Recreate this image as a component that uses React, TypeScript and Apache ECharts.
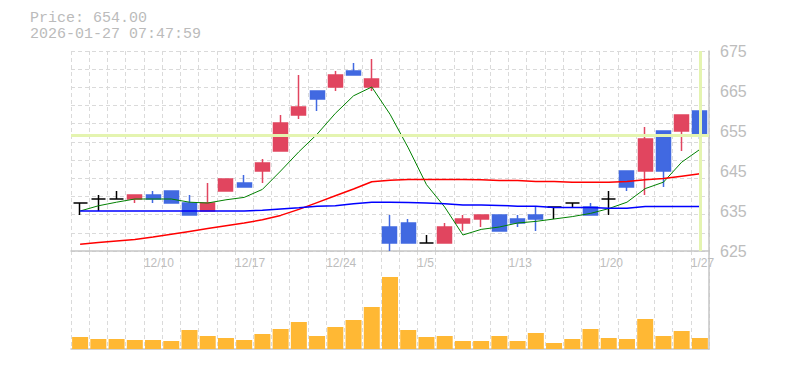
import React, { useEffect, useRef } from 'react';
import * as echarts from 'echarts';

const dates = [
  '12/4', '12/5', '12/8', '12/9', '12/10', '12/11', '12/12', '12/15', '12/16', '12/17',
  '12/18', '12/19', '12/22', '12/23', '12/24', '12/25', '12/26', '12/29', '12/30', '1/5',
  '1/6', '1/7', '1/8', '1/9', '1/13', '1/14', '1/15', '1/16', '1/19', '1/20',
  '1/21', '1/22', '1/23', '1/26', '1/27',
];

const openPrices = [637, 638, 638, 638, 639, 640, 637, 635, 640, 642, 645, 650, 659, 665, 666, 670, 666, 631, 632, 627, 627, 632, 633, 634, 633, 634, 636, 637, 636, 638, 645, 645, 655, 655, 660];
const closePrices = [637, 638, 638, 639, 638, 637, 634, 637, 643, 641, 647, 657, 661, 663, 669, 669, 668, 627, 627, 627, 631, 633, 634, 630, 632, 633, 636, 637, 634, 638, 641, 653, 645, 659, 654];
const lowPrices = [634, 635, 638, 637, 637, 637, 634, 635, 640, 641, 642, 650, 658, 660, 665, 669, 665, 625, 627, 627, 627, 630, 631, 630, 631, 630, 633, 636, 634, 634, 640, 639, 641, 650, 653];
const highPrices = [637, 639, 640, 639, 640, 640, 639, 642, 643, 644, 648, 659, 669, 665, 670, 672, 673, 634, 633, 629, 632, 634, 634, 634, 634, 636, 636, 637, 637, 640, 645, 656, 655, 659, 660];

const ma5 = [635.0, 636.3, 637.2, 638.0, 638.0, 638.0, 637.2, 637.0, 637.8, 638.4, 640.4, 645.0, 649.8, 654.2, 659.4, 663.8, 666.0, 659.2, 650.8, 641.6, 636.0, 629.0, 630.4, 631.0, 632.0, 632.4, 633.0, 633.6, 634.4, 635.6, 637.2, 640.6, 642.2, 647.2, 650.4];
const ma25 = [626.7, 627.1, 627.5, 627.9, 628.5, 629.2, 629.9, 630.6, 631.3, 632.0, 632.8, 633.9, 635.4, 637.1, 638.8, 640.5, 642.3, 642.7, 642.9, 642.9, 642.9, 642.9, 642.8, 642.6, 642.6, 642.4, 642.4, 642.2, 642.2, 642.2, 642.4, 642.8, 643.1, 643.7, 644.3];
const ma75 = [635.0, 635.0, 635.0, 635.0, 635.0, 635.0, 635.0, 635.0, 635.0, 635.0, 635.2, 635.5, 635.8, 636.2, 636.3, 636.8, 637.2, 637.2, 637.1, 637.0, 636.8, 636.5, 636.5, 636.4, 636.2, 636.2, 635.9, 635.9, 635.9, 635.7, 635.7, 636.1, 636.1, 636.1, 636.1];

const volumes = [12000, 10000, 10000, 9000, 9000, 8000, 19000, 13000, 11000, 9000, 15000, 20000, 27000, 13000, 22000, 29000, 42000, 72000, 19000, 12000, 13000, 8000, 8000, 13000, 8000, 16000, 6000, 10000, 20000, 11000, 10000, 30000, 13000, 18000, 11000];

const priceTicks = { min: 625, max: 675, step: 10 };
const lastPrice = 654;
const timestamp = '2026-01-27 07:47:59';

const gridColor = '#dadada';
const axisColor = '#c6c6c6';
const labelColor = '#bdbdbd';
const upColor = '#e1455f';
const downColor = '#4169e1';

export default function App() {
  const ref = useRef<HTMLDivElement>(null);

  useEffect(() => {
    if (!ref.current) return;
    const chart = echarts.init(ref.current, null, { renderer: 'svg' });
    const dashed = { show: true, interval: 0, lineStyle: { color: gridColor, type: [4, 3], width: 1 } };
    const solidAxis = { show: true, onZero: false, lineStyle: { color: axisColor, width: 1.5 } };
    const candleData = dates.map((_, i) => [openPrices[i], closePrices[i], lowPrices[i], highPrices[i]]);

    chart.setOption({
      animation: false,
      backgroundColor: '#ffffff',
      grid: [
        { left: 71, top: 51, width: 638, height: 200 },
        { left: 71, top: 251, width: 638, height: 98 },
      ],
      xAxis: [
        {
          type: 'category', gridIndex: 0, data: dates, boundaryGap: true,
          axisLine: solidAxis, axisTick: { show: false }, axisLabel: { show: false },
          splitLine: dashed,
        },
        {
          type: 'value', gridIndex: 0, position: 'bottom', min: 0, max: dates.length, interval: 1,
          axisLine: { show: false, onZero: false }, axisTick: { show: false }, splitLine: { show: false },
          axisLabel: {
            show: true, margin: 6, align: 'left', color: labelColor,
            fontFamily: 'Liberation Sans', fontSize: 12,
            formatter: (v: number) => (v % 5 === 4 && dates[v] ? dates[v] : ''),
          },
        },
        {
          type: 'category', gridIndex: 1, data: dates, boundaryGap: true,
          axisLine: solidAxis, axisTick: { show: false }, axisLabel: { show: false },
          splitLine: dashed,
        },
      ],
      yAxis: [
        {
          type: 'value', gridIndex: 0, position: 'right',
          min: priceTicks.min, max: priceTicks.max, interval: priceTicks.step,
          axisLine: solidAxis, axisTick: { show: false }, splitLine: { show: false },
          axisLabel: {
            color: labelColor, fontFamily: 'Liberation Sans', fontSize: 16, margin: 11,
            padding: [8, 0, 0, 0],
          },
        },
        {
          type: 'value', gridIndex: 0, position: 'left', min: 0, max: 11, interval: 1,
          axisLine: { show: false, onZero: false }, axisTick: { show: false }, axisLabel: { show: false },
          splitLine: dashed,
        },
        {
          type: 'value', gridIndex: 1, position: 'right', min: 0, max: 98000,
          axisLine: solidAxis, axisTick: { show: false }, axisLabel: { show: false },
          splitLine: { show: false },
        },
      ],
      series: [
        {
          type: 'line', xAxisIndex: 0, yAxisIndex: 0, z: 1, silent: true,
          data: dates.map(() => null), symbol: 'none',
          markLine: {
            silent: true, symbol: ['none', 'none'], label: { show: false },
            lineStyle: { color: '#e4f4b0', width: 3, type: 'solid' },
            emphasis: { disabled: true },
            data: [{ yAxis: lastPrice }, { xAxis: dates.length - 1 }],
          },
        },
        {
          type: 'candlestick', xAxisIndex: 0, yAxisIndex: 0, z: 3,
          data: candleData, barWidth: 14.5,
          itemStyle: {
            color: upColor, color0: downColor,
            borderColor: upColor, borderColor0: downColor, borderColorDoji: '#000000',
            borderWidth: 1.5,
          },
        },
        {
          type: 'line', name: 'MA5', xAxisIndex: 0, yAxisIndex: 0, z: 4, data: ma5,
          symbol: 'none', lineStyle: { color: '#008000', width: 1 },
        },
        {
          type: 'line', name: 'MA25', xAxisIndex: 0, yAxisIndex: 0, z: 4, data: ma25,
          symbol: 'none', lineStyle: { color: '#ff0000', width: 1.5 },
        },
        {
          type: 'line', name: 'MA75', xAxisIndex: 0, yAxisIndex: 0, z: 4, data: ma75,
          symbol: 'none', lineStyle: { color: '#0000ff', width: 1.5 },
        },
        {
          type: 'bar', name: 'Volume', xAxisIndex: 2, yAxisIndex: 2, data: volumes,
          barWidth: 16, itemStyle: { color: '#ffb834' },
        },
      ],
      graphic: [
        {
          type: 'text', left: 30, top: 11,
          style: { text: `Price: ${lastPrice.toFixed(2)}`, font: '15px "Liberation Mono"', fill: '#bbbbbb' },
        },
        {
          type: 'text', left: 30, top: 27,
          style: { text: timestamp, font: '15px "Liberation Mono"', fill: '#bbbbbb' },
        },
      ],
    });
    return () => chart.dispose();
  }, []);

  return <div ref={ref} style={{ position: 'absolute', left: 0, top: 0, width: 785, height: 370 }} />;
}
